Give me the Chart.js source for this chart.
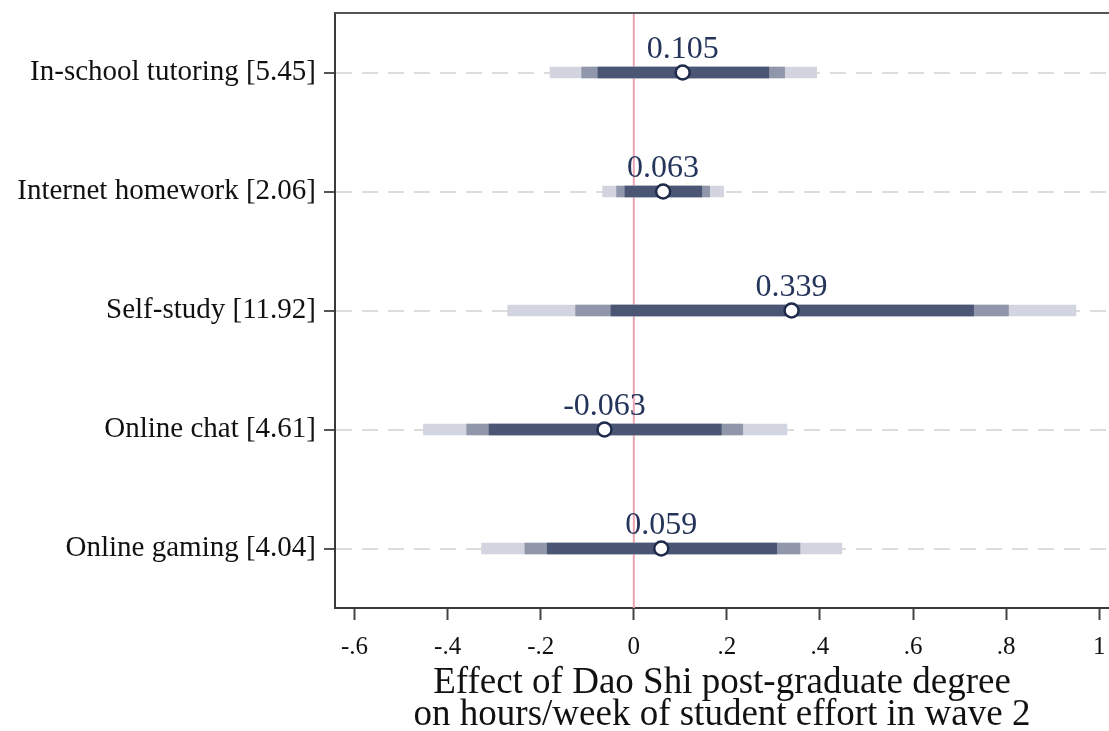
<!DOCTYPE html>
<html>
<head>
<meta charset="utf-8">
<script src="https://cdn.jsdelivr.net/npm/chart.js@4.4.0/dist/chart.umd.min.js"></script>
<style>
  html, body { margin: 0; padding: 0; background: #fff; }
  canvas { display: block; }
</style>
</head>
<body>
<canvas id="grafico" width="1109" height="731"></canvas>
<script>
// * Dados
var categorias = ['In-school tutoring [5.45]', 'Internet homework [2.06]', 'Self-study [11.92]', 'Online chat [4.61]', 'Online gaming [4.04]'];
var estimativas = [0.105, 0.063, 0.339, -0.063, 0.059];
// intervalos de confianca 99%, 95% e 90%
var ic99Min = [-0.180, -0.067, -0.271, -0.452, -0.327];
var ic99Max = [0.393, 0.193, 0.950, 0.329, 0.447];
var ic95Min = [-0.112, -0.037, -0.125, -0.359, -0.234];
var ic95Max = [0.324, 0.163, 0.805, 0.234, 0.357];
var ic90Min = [-0.077, -0.019, -0.049, -0.311, -0.186];
var ic90Max = [0.290, 0.146, 0.730, 0.188, 0.307];
var ticksX = [-0.6, -0.4, -0.2, 0, 0.2, 0.4, 0.6, 0.8, 1];

var fonte = 'Liberation Serif, Times New Roman, serif';

function intervalo(min, max) {
    return min.map(function (v, i) { return [v, max[i]]; });
}

// > Linha rosa no zero e borda de cima do quadro
var linhaZero = {
    id: 'linhaZero',
    beforeDatasetsDraw: function (chart) {
        var ctx = chart.ctx;
        var area = chart.chartArea;
        var x0 = chart.scales.x.getPixelForValue(0);
        ctx.save();
        ctx.strokeStyle = '#eaa3b3';
        ctx.lineWidth = 2;
        ctx.beginPath();
        ctx.moveTo(x0, area.top);
        ctx.lineTo(x0, area.bottom);
        ctx.stroke();
        ctx.strokeStyle = '#555';
        ctx.lineWidth = 2;
        ctx.beginPath();
        ctx.moveTo(area.left, area.top);
        ctx.lineTo(area.right, area.top);
        ctx.stroke();
        ctx.restore();
    }
};

// > Rotulo com o valor acima de cada ponto
var rotulos = {
    id: 'rotulos',
    afterDatasetsDraw: function (chart) {
        var ctx = chart.ctx;
        var meta = chart.getDatasetMeta(3);
        ctx.save();
        ctx.font = '32px ' + fonte;
        ctx.fillStyle = '#24345a';
        ctx.textAlign = 'center';
        ctx.textBaseline = 'alphabetic';
        meta.data.forEach(function (ponto, i) {
            ctx.fillText(estimativas[i].toFixed(3), ponto.x, ponto.y - 15);
        });
        ctx.restore();
    }
};

var ctx = document.getElementById('grafico').getContext('2d');
var grafico = new Chart(ctx, {
    type: 'bar',
    data: {
        labels: categorias,
        datasets: [{
            data: intervalo(ic99Min, ic99Max),
            backgroundColor: '#d2d5df',
            order: 3
        }, {
            data: intervalo(ic95Min, ic95Max),
            backgroundColor: '#9097aa',
            order: 2
        }, {
            data: intervalo(ic90Min, ic90Max),
            backgroundColor: '#4b5675',
            order: 1
        }, {
            type: 'line',
            indexAxis: 'y',
            showLine: false,
            data: estimativas.map(function (v, i) { return { x: v, y: categorias[i] }; }),
            pointRadius: 7,
            pointBorderWidth: 2.5,
            pointBackgroundColor: '#fff',
            pointBorderColor: '#1f2b4a',
            order: 0
        }]
    },
    options: {
        indexAxis: 'y',
        responsive: false,
        animation: false,
        events: [],
        layout: { autoPadding: false, padding: { top: 13, left: 0, right: 0, bottom: 0 } },
        datasets: { bar: { grouped: false, barThickness: 11, borderSkipped: false } },
        plugins: { legend: { display: false }, tooltip: { enabled: false } },
        scales: {
            y: {
                type: 'category',
                offset: true,
                grid: { offset: false, color: '#dcdcdc', lineWidth: 2, tickLength: 11, tickColor: '#555', tickWidth: 2, tickBorderDash: [] },
                border: { display: true, color: '#3a3a3a', width: 2, dash: [16, 10] },
                ticks: { font: { family: fonte, size: 29 }, color: '#111', padding: 8 },
                afterFit: function (s) {
                    s.width = 335;
                    s.paddingTop = 0;
                    s.paddingBottom = 0;
                }
            },
            x: {
                type: 'linear',
                min: -0.642,
                max: 1.021,
                afterBuildTicks: function (s) {
                    s.ticks = ticksX.map(function (v) { return { value: v }; });
                },
                grid: { drawOnChartArea: false, drawTicks: true, tickLength: 12, tickColor: '#444', tickWidth: 2 },
                border: { display: true, color: '#3a3a3a', width: 2 },
                ticks: {
                    font: { family: fonte, size: 25 },
                    color: '#111',
                    padding: 12,
                    autoSkip: false,
                    maxRotation: 0,
                    callback: function (v) {
                        if (Number.isInteger(v)) return String(v);
                        return v.toFixed(1).replace('0.', '.');
                    }
                },
                title: {
                    display: true,
                    text: ['Effect of Dao Shi post-graduate degree', 'on hours/week of student effort in wave 2'],
                    font: { family: fonte, size: 37, lineHeight: 0.865 },
                    color: '#111',
                    padding: { top: 4, bottom: 0 }
                },
                afterFit: function (s) {
                    s.height = 123;
                    s.paddingLeft = 0;
                    s.paddingRight = 0;
                }
            }
        }
    },
    plugins: [linhaZero, rotulos]
});
</script>
</body>
</html>
